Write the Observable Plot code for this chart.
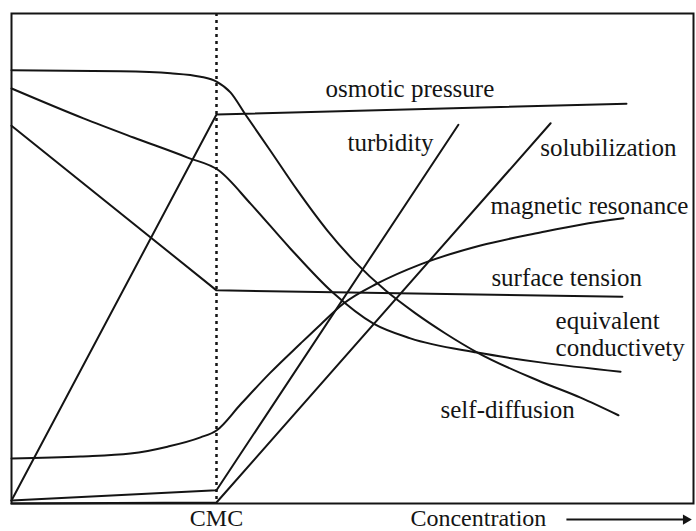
<!DOCTYPE html>
<html><head><meta charset="utf-8">
<script src="https://cdn.jsdelivr.net/npm/d3@7"></script>
<script src="https://cdn.jsdelivr.net/npm/@observablehq/plot@0.6"></script>
<style>html,body{margin:0;padding:0;background:#fff}</style>
</head><body><div id="chart"></div>
<script>
// Concentration in multiples of the CMC; property values in relative units (0–100)
const osmoticPressure = [[0, 0.6], [1, 79.4], [3, 81.6]];
const turbidity = [[0, 0.6], [1, 2.7], [2.18, 77.3]];
const solubilization = [[0, 0], [1, 0.2], [2.63, 77.6]];
const surfaceTension = [[0, 77.1], [1, 43.5], [2.98, 42.2]];
const magneticResonance = [[0, 9.2], [0.337, 9.6], [0.58, 10.2], [0.761, 11.6], [0.922, 13.5], [1, 14.9],
  [1.117, 20.2], [1.263, 26.7], [1.41, 32.65], [1.507, 36.5], [1.62, 40.8], [1.785, 44.9], [1.995, 48.8],
  [2.288, 52.65], [2.58, 55.3], [2.776, 56.9], [2.985, 58.2]];
const equivalentConductivity = [[0, 84.7], [0.351, 78.6], [0.595, 74.7], [0.859, 70.6], [1.01, 68.0],
  [1.166, 61.2], [1.361, 52.0], [1.566, 43.1], [1.766, 36.7], [1.946, 33.7], [2.273, 30.8], [2.58, 28.8], [2.971, 26.9]];
const selfDiffusion = [[0, 88.4], [0.532, 88.2], [0.776, 87.8], [0.922, 87.1], [1, 86.1], [1.068, 83.9],
  [1.141, 79.4], [1.263, 72.0], [1.395, 63.9], [1.541, 55.7], [1.678, 49.2], [1.824, 43.5], [1.971, 38.8],
  [2.117, 34.7], [2.273, 30.8], [2.58, 24.9], [2.776, 21.6], [2.961, 18.0]];

const cmc = [1];
const tickLabels = ["CMC"];

const labelNames = ["osmotic pressure", "turbidity", "solubilization", "magnetic resonance",
  "surface tension", "equivalent\nconductivety", "self-diffusion"];
const labelConc = [1.532, 1.639, 2.580, 2.337, 2.341, 2.654, 2.093];
const labelValue = [83.06, 72.04, 71.02, 59.18, 44.29, 30.2, 17.35];

const axisTitle = ["Concentration"];
const axisTitleConc = [1.946];
const axisTitleValue = [-4.49];
const arrowConc = [2.707, 3.29];
const arrowValue = [-3.27];

const toRows = pts => pts.map(([c, v]) => ({c, v}));
const ink = "#141414";
const lineOpts = {x: "c", y: "v", stroke: ink, strokeWidth: 2};

const labels = labelNames.map((t, i) => ({t, c: labelConc[i], v: labelValue[i]}));

const chart = Plot.plot({
  width: 696,
  height: 531,
  marginLeft: 11,
  marginRight: 3,
  marginTop: 13,
  marginBottom: 28,
  style: {fontFamily: "'Liberation Serif', serif", fontSize: "24px", background: "#fff", color: ink},
  x: {domain: [0, 3.327], ticks: cmc, tickFormat: d => tickLabels[cmc.indexOf(d)], tickSize: 0, tickPadding: 5, label: null},
  y: {domain: [0, 100], axis: null},
  marks: [
    Plot.ruleX(cmc, {stroke: ink, strokeWidth: 2.5, strokeDasharray: "3,4"}),
    Plot.line(toRows(osmoticPressure), lineOpts),
    Plot.line(toRows(turbidity), lineOpts),
    Plot.line(toRows(solubilization), lineOpts),
    Plot.line(toRows(surfaceTension), lineOpts),
    Plot.line(toRows(magneticResonance), {...lineOpts, curve: "monotone-x"}),
    Plot.line(toRows(equivalentConductivity), {...lineOpts, curve: "monotone-x"}),
    Plot.line(toRows(selfDiffusion), {...lineOpts, curve: "monotone-x"}),
    Plot.text(labels, {x: "c", y: "v", text: "t", textAnchor: "start", lineAnchor: "bottom", lineHeight: 1.08, fontSize: 25, fill: ink}),
    Plot.text(axisTitle, {x: axisTitleConc, y: axisTitleValue, text: d => d, textAnchor: "start", lineAnchor: "bottom", fontSize: 24, fill: ink}),
    Plot.link([0], {x1: () => arrowConc[0], x2: () => arrowConc[1], y1: () => arrowValue[0], y2: () => arrowValue[0], stroke: ink, strokeWidth: 2}),
    Plot.dot([0], {x: () => arrowConc[1], y: () => arrowValue[0], symbol: "triangle", r: 3.8, fill: ink, stroke: "none", rotate: 90}),
    Plot.frame({stroke: ink, strokeWidth: 2})
  ]
});
document.getElementById("chart").appendChild(chart);
</script>
</body></html>
